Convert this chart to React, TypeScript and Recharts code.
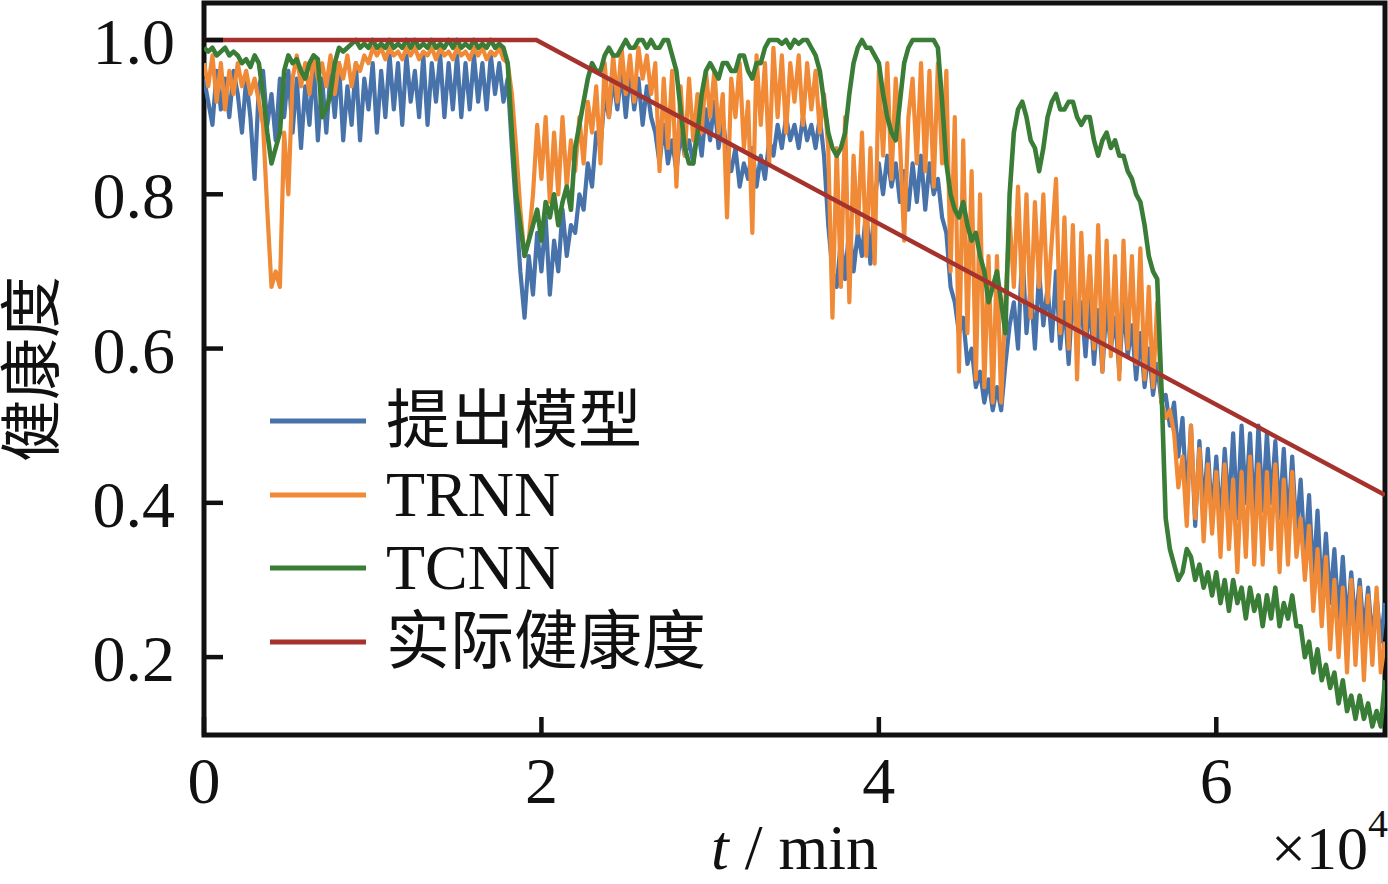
import React from "react";
import { LineChart, Line, XAxis, YAxis, Legend, ReferenceArea } from "recharts";

const STEP = 0.025;

const PROPOSED = [
  0.95, 0.92, 0.89, 0.96, 0.91, 0.95, 0.9, 0.96, 0.93, 0.88, 0.95, 0.9, 0.82, 0.94, 0.96, 0.89, 0.93, 0.87, 0.95, 0.9,
  0.96, 0.88, 0.95, 0.86, 0.94, 0.89, 0.97, 0.87, 0.95, 0.88, 0.96, 0.9, 0.97, 0.87, 0.94, 0.89, 0.97, 0.87, 0.95, 0.91,
  0.97, 0.88, 0.96, 0.9, 0.98, 0.91, 0.97, 0.89, 0.98, 0.92, 0.96, 0.9, 0.98, 0.89, 0.97, 0.92, 0.98, 0.9, 0.97, 0.91,
  0.98, 0.9, 0.97, 0.91, 0.98, 0.92, 0.97, 0.91, 0.98, 0.93, 0.97, 0.92, 0.95, 0.86, 0.78, 0.7, 0.64, 0.72, 0.67, 0.75,
  0.7, 0.77, 0.67, 0.74, 0.7, 0.78, 0.72, 0.76, 0.75, 0.8, 0.78, 0.84, 0.81, 0.88, 0.86, 0.93, 0.9, 0.95, 0.91, 0.96,
  0.9, 0.96, 0.91, 0.95, 0.89, 0.94, 0.9, 0.88, 0.84, 0.89, 0.84, 0.87, 0.83, 0.88, 0.85, 0.87, 0.84, 0.89, 0.85, 0.91,
  0.87, 0.92, 0.86, 0.9, 0.85, 0.83, 0.86, 0.81, 0.84, 0.82, 0.86, 0.81, 0.85, 0.82, 0.87, 0.85, 0.89, 0.86, 0.9, 0.87,
  0.89, 0.86, 0.9, 0.87, 0.89, 0.86, 0.9, 0.85, 0.76, 0.7, 0.68, 0.74, 0.69, 0.76, 0.7, 0.75, 0.72, 0.78, 0.71, 0.79,
  0.84, 0.8, 0.85, 0.81, 0.84, 0.79, 0.83, 0.78, 0.84, 0.79, 0.85, 0.78, 0.84, 0.8, 0.82, 0.77, 0.75, 0.68, 0.66, 0.62,
  0.64, 0.58, 0.6, 0.55, 0.57, 0.53, 0.56, 0.52, 0.55, 0.52, 0.58, 0.63, 0.66, 0.6, 0.73, 0.62, 0.68, 0.6, 0.7, 0.63,
  0.68, 0.61, 0.7, 0.6, 0.66, 0.58, 0.68, 0.61, 0.66, 0.59, 0.67, 0.58, 0.65, 0.57, 0.66, 0.6, 0.64, 0.57, 0.66, 0.59,
  0.63, 0.56, 0.62, 0.55, 0.6, 0.54, 0.58, 0.53, 0.54, 0.5, 0.53, 0.46, 0.51, 0.4, 0.5, 0.37, 0.48, 0.39, 0.47, 0.38,
  0.46, 0.37, 0.47, 0.39, 0.49, 0.38, 0.5, 0.4, 0.49, 0.38, 0.5, 0.39, 0.49, 0.4, 0.48, 0.38, 0.47, 0.37, 0.46, 0.36,
  0.43, 0.33, 0.41, 0.3, 0.39, 0.28, 0.36, 0.27, 0.34, 0.25, 0.33, 0.24, 0.31, 0.24, 0.3, 0.23, 0.29, 0.22, 0.28, 0.22,
  0.27,
];

const TRNN = [
  0.97, 0.94, 0.98, 0.92, 0.97, 0.91, 0.96, 0.93, 0.97, 0.94, 0.96, 0.93, 0.95, 0.92, 0.89, 0.78, 0.68, 0.7, 0.68, 0.88,
  0.8, 0.95, 0.98, 0.94, 0.97, 0.93, 0.98, 0.95, 0.97, 0.94, 0.98, 0.93, 0.97, 0.95, 0.98, 0.94, 0.97, 0.96, 0.98, 0.97,
  0.99, 0.98, 0.99, 0.975, 0.99, 0.98, 0.985, 0.975, 0.99, 0.98, 0.99, 0.975, 0.985, 0.98, 0.99, 0.975, 0.99, 0.98, 0.985, 0.975,
  0.99, 0.98, 0.985, 0.975, 0.99, 0.98, 0.99, 0.975, 0.985, 0.98, 0.99, 0.975, 0.97, 0.93, 0.86, 0.78, 0.72, 0.74, 0.8, 0.89,
  0.82, 0.9, 0.79, 0.88, 0.8, 0.9, 0.81, 0.87, 0.83, 0.9, 0.84, 0.92, 0.88, 0.94, 0.84, 0.97, 0.9, 0.98, 0.92, 0.99,
  0.93, 0.98, 0.92, 0.99, 0.95, 0.98, 0.93, 0.97, 0.83, 0.95, 0.86, 0.96, 0.81, 0.94, 0.85, 0.95, 0.87, 0.93, 0.88, 0.96,
  0.9, 0.96, 0.88, 0.93, 0.77, 0.95, 0.9, 0.97, 0.86, 0.92, 0.75, 0.98, 0.89, 0.97, 0.84, 0.99, 0.9, 0.98, 0.88, 0.97,
  0.92, 0.98, 0.89, 0.97, 0.91, 0.96, 0.88, 0.93, 0.86, 0.64, 0.86, 0.68, 0.9, 0.66, 0.85, 0.75, 0.88, 0.72, 0.86, 0.71,
  0.96, 0.85, 0.97, 0.82, 0.95, 0.87, 0.74, 0.9, 0.95, 0.84, 0.97, 0.83, 0.96, 0.81, 0.97, 0.84, 0.96, 0.7, 0.9, 0.57,
  0.87, 0.62, 0.83, 0.56, 0.8, 0.55, 0.72, 0.53, 0.72, 0.53, 0.66, 0.77, 0.68, 0.81, 0.66, 0.8, 0.64, 0.79, 0.68, 0.8,
  0.66, 0.74, 0.82, 0.62, 0.77, 0.6, 0.76, 0.56, 0.75, 0.62, 0.72, 0.6, 0.76, 0.57, 0.74, 0.59, 0.72, 0.56, 0.74, 0.6,
  0.72, 0.58, 0.73, 0.56, 0.68, 0.55, 0.66, 0.53, 0.51, 0.52, 0.49, 0.42, 0.46, 0.37, 0.5, 0.38, 0.47, 0.35, 0.45, 0.36,
  0.44, 0.33, 0.45, 0.34, 0.43, 0.31, 0.44, 0.33, 0.46, 0.32, 0.45, 0.32, 0.44, 0.34, 0.45, 0.31, 0.43, 0.32, 0.44, 0.33,
  0.38, 0.3, 0.37, 0.26, 0.34, 0.24, 0.33, 0.21, 0.3, 0.2, 0.29, 0.18, 0.3, 0.19, 0.29, 0.17, 0.28, 0.19, 0.29, 0.18,
  0.22,
];

const TCNN = [
  0.99, 0.985, 0.99, 0.98, 0.985, 0.99, 0.98, 0.985, 0.98, 0.97, 0.975, 0.965, 0.98, 0.97, 0.93, 0.88, 0.84, 0.86, 0.88, 0.96,
  0.98, 0.97, 0.975, 0.96, 0.95, 0.97, 0.98, 0.975, 0.9, 0.91, 0.93, 0.97, 0.99, 0.985, 0.99, 0.995, 1.0, 0.99, 0.995, 0.99,
  1.0, 0.99, 0.995, 0.99, 1.0, 0.99, 0.995, 0.99, 1.0, 0.99, 1.0, 0.99, 0.995, 0.99, 1.0, 0.99, 0.995, 0.99, 1.0, 0.99,
  1.0, 0.99, 0.995, 0.99, 1.0, 0.99, 0.995, 0.99, 1.0, 0.99, 0.995, 0.99, 0.97, 0.88, 0.8, 0.76, 0.72, 0.74, 0.76, 0.78,
  0.74, 0.79, 0.77, 0.8, 0.76, 0.79, 0.81, 0.78, 0.86, 0.89, 0.92, 0.95, 0.97, 0.96, 0.96, 0.98, 0.99, 0.98, 0.98, 0.99,
  1.0, 0.99, 0.99, 1.0, 1.0, 0.99, 1.0, 0.99, 0.99, 1.0, 1.0, 0.98, 0.96, 0.91, 0.86, 0.84, 0.84, 0.88, 0.93, 0.96,
  0.97, 0.96, 0.95, 0.97, 0.97, 0.96, 0.96, 0.98, 0.98, 0.96, 0.95, 0.97, 0.97, 0.99, 1.0, 1.0, 1.0, 0.995, 1.0, 0.99,
  1.0, 0.995, 1.0, 1.0, 0.99, 0.98, 0.96, 0.92, 0.88, 0.86, 0.85, 0.86, 0.88, 0.93, 0.97, 0.99, 1.0, 0.99, 0.99, 0.98,
  0.97, 0.93, 0.9, 0.88, 0.87, 0.92, 0.97, 0.99, 1.0, 1.0, 1.0, 1.0, 1.0, 1.0, 0.99, 0.92, 0.84, 0.8, 0.78, 0.77,
  0.79, 0.76, 0.74, 0.75, 0.72, 0.7, 0.66, 0.68, 0.7, 0.66, 0.62, 0.8, 0.88, 0.91, 0.92, 0.9, 0.87, 0.86, 0.83, 0.86,
  0.9, 0.92, 0.93, 0.91, 0.91, 0.92, 0.92, 0.9, 0.89, 0.9, 0.9, 0.87, 0.85, 0.87, 0.88, 0.86, 0.87, 0.85, 0.85, 0.83,
  0.82, 0.8, 0.79, 0.76, 0.72, 0.7, 0.69, 0.55, 0.38, 0.34, 0.32, 0.3, 0.31, 0.34, 0.33, 0.3, 0.32, 0.29, 0.31, 0.28,
  0.31, 0.27, 0.3, 0.26, 0.3, 0.27, 0.29, 0.25, 0.29, 0.26, 0.28, 0.24, 0.28, 0.25, 0.29, 0.24, 0.27, 0.25, 0.28, 0.24,
  0.24, 0.2, 0.22, 0.18, 0.21, 0.17, 0.19, 0.16, 0.18, 0.14, 0.17, 0.13, 0.15, 0.12, 0.15, 0.12, 0.14, 0.11, 0.13, 0.11,
  0.17,
];

// actual health: flat, then straight decline
const ACTUAL_T = [0, 1.97, 7];
const ACTUAL_H = [1.0, 1.0, 0.41];

const X_TICKS = [0, 2, 4, 6];
const Y_TICKS = [0.2, 0.4, 0.6, 0.8, 1.0];
const Y_DOMAIN = [0.099, 1.048];
const NAMES = ["提出模型", "TRNN", "TCNN", "实际健康度"];
const COLORS = ["#4873aa", "#f08a37", "#3a7d37", "#a5322d"];

const FONT = "'Liberation Serif', 'Noto Sans CJK SC', serif";
const INK = "#111";

const rows = PROPOSED.map((v, i) => ({
  t: Number((i * STEP).toFixed(3)),
  proposed: v,
  trnn: TRNN[i],
  tcnn: TCNN[i],
}));
const actual = ACTUAL_T.map((t, i) => ({ t, h: ACTUAL_H[i] }));

const XTick = (props: any) => {
  const { x, y, payload } = props;
  return (
    <g>
      <line x1={x} x2={x} y1={y - 68} y2={y - 86} stroke={INK} strokeWidth={4.5} />
      <text x={x} y={y} textAnchor="middle" fontFamily={FONT} fontSize={66} fill={INK}>
        {payload.value}
      </text>
    </g>
  );
};

const YTick = (props: any) => {
  const { x, y, payload } = props;
  return (
    <g>
      <line x1={x + 29} x2={x + 48} y1={y} y2={y} stroke={INK} strokeWidth={4.5} />
      <text x={x} y={y} dy={24} textAnchor="end" fontFamily={FONT} fontSize={66} fill={INK}>
        {Number(payload.value).toFixed(1)}
      </text>
    </g>
  );
};

const XTitle = (props: any) => {
  const vb = props.viewBox || { x: 204, y: 735, width: 1181, height: 149 };
  return (
    <g fontFamily={FONT} fill={INK}>
      <text x={vb.x + vb.width / 2} y={vb.y + 134} textAnchor="middle" fontSize={64}>
        <tspan fontStyle="italic">t</tspan> / min
      </text>
      <text x={vb.x + vb.width + 3} y={vb.y + 134} textAnchor="end" fontSize={62}>
        ×10<tspan fontSize={40} dy={-32}>4</tspan>
      </text>
    </g>
  );
};

const YTitle = (props: any) => {
  const vb = props.viewBox || { x: 0, y: 3, width: 204, height: 732 };
  const cx = vb.x + 33;
  const cy = vb.y + vb.height / 2;
  return (
    <text
      x={cx}
      y={cy}
      transform={`rotate(-90, ${cx}, ${cy})`}
      textAnchor="middle"
      dominantBaseline="central"
      fontFamily={FONT}
      fontSize={62}
      fill={INK}
    >
      健康度
    </text>
  );
};

const LegendBox = (props: any) => {
  const items = [...(props.payload || [])].sort(
    (a: any, b: any) => NAMES.indexOf(a.value) - NAMES.indexOf(b.value)
  );
  return (
    <div style={{ fontFamily: FONT, fontSize: 64, color: INK }}>
      {items.map((e: any) => (
        <div key={e.value} style={{ display: "flex", alignItems: "center", height: 73.7 }}>
          <svg width={96} height={6} style={{ display: "block" }}>
            <line x1={0} x2={96} y1={3} y2={3} stroke={e.color} strokeWidth={5} />
          </svg>
          <span style={{ marginLeft: 20, lineHeight: 1, whiteSpace: "nowrap" }}>{e.value}</span>
        </div>
      ))}
    </div>
  );
};

export default function App() {
  return (
    <div style={{ position: "absolute", left: 0, top: 0, width: 1388, height: 884, background: "#fff" }}>
      <LineChart width={1388} height={884} data={rows} margin={{ top: 3, right: 3, bottom: 0, left: 0 }}>
        <XAxis
          dataKey="t"
          type="number"
          domain={[0, 7]}
          ticks={X_TICKS}
          interval={0}
          allowDataOverflow
          height={149}
          axisLine={false}
          tickLine={false}
          tickSize={0}
          tickMargin={68}
          tick={<XTick />}
          label={<XTitle />}
        />
        <YAxis
          type="number"
          domain={Y_DOMAIN}
          ticks={Y_TICKS}
          interval={0}
          allowDataOverflow
          width={204}
          axisLine={false}
          tickLine={false}
          tickSize={0}
          tickMargin={29}
          tick={<YTick />}
          label={<YTitle />}
        />
        <Line
          name={NAMES[0]}
          dataKey="proposed"
          stroke={COLORS[0]}
          strokeWidth={4.2}
          strokeLinejoin="round"
          dot={false}
          isAnimationActive={false}
        />
        <Line
          name={NAMES[1]}
          dataKey="trnn"
          stroke={COLORS[1]}
          strokeWidth={4.2}
          strokeLinejoin="round"
          dot={false}
          isAnimationActive={false}
        />
        <Line
          name={NAMES[2]}
          dataKey="tcnn"
          stroke={COLORS[2]}
          strokeWidth={4.6}
          strokeLinejoin="round"
          dot={false}
          isAnimationActive={false}
        />
        <Line
          name={NAMES[3]}
          data={actual}
          dataKey="h"
          stroke={COLORS[3]}
          strokeWidth={4.5}
          dot={false}
          isAnimationActive={false}
        />
        <ReferenceArea
          x1={0}
          x2={7}
          y1={Y_DOMAIN[0]}
          y2={Y_DOMAIN[1]}
          fill="none"
          stroke={INK}
          strokeWidth={5}
          ifOverflow="visible"
        />
        <Legend
          layout="vertical"
          align="center"
          verticalAlign="middle"
          content={<LegendBox />}
          wrapperStyle={{ left: 270, top: 384, width: "auto", height: "auto" }}
        />
      </LineChart>
    </div>
  );
}
